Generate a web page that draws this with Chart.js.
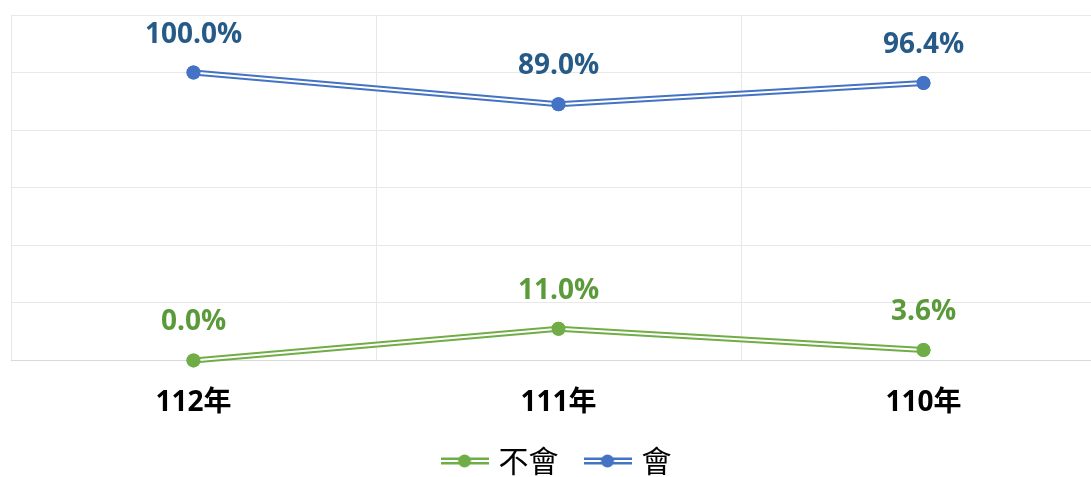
<!DOCTYPE html>
<html>
<head>
<meta charset="utf-8">
<script src="https://cdn.jsdelivr.net/npm/chart.js@4"></script>
<style>
  html, body { margin: 0; padding: 0; background: #fff; overflow: hidden; }
  #wrap { width: 1106px; height: 490px; }
</style>
</head>
<body>
<div id="wrap"><canvas id="grafik"></canvas></div>
<script>
const years = ['112年', '111年', '110年'];
const buHui = [0.0, 11.0, 3.6];      // 不會
const hui = [100.0, 89.0, 96.4];     // 會
const seriesNames = ['不會', '會'];
const lineColors = ['#70AD47', '#4472C4'];
const labelColors = ['#5B9A3A', '#265A87'];

// legend icon: double line with a dot
function makeIcon(color) {
  const c = document.createElement('canvas');
  c.width = 48; c.height = 20;
  const g = c.getContext('2d');
  g.fillStyle = color;
  g.fillRect(0, 6.5, 48, 2.5);
  g.fillRect(0, 11, 48, 2.5);
  g.beginPath();
  g.arc(24, 10, 6.5, 0, Math.PI * 2);
  g.fill();
  return c;
}

const doubleLine = {
  id: 'doubleLine',
  afterDatasetDraw(chart, args) {
    const pts = args.meta.data;
    const ctx = chart.ctx;
    ctx.save();
    ctx.strokeStyle = '#fff';
    ctx.lineWidth = 2;
    ctx.beginPath();
    pts.forEach((p, i) => i ? ctx.lineTo(p.x, p.y) : ctx.moveTo(p.x, p.y));
    ctx.stroke();
    ctx.restore();
    pts.forEach(p => p.draw(ctx));
  }
};

const valueLabels = {
  id: 'valueLabels',
  afterDatasetsDraw(chart) {
    const ctx = chart.ctx;
    ctx.save();
    ctx.font = 'bold 28px "Open Sans", "Noto Sans", sans-serif';
    ctx.textAlign = 'center';
    ctx.textBaseline = 'middle';
    chart.data.datasets.forEach((ds, i) => {
      chart.getDatasetMeta(i).data.forEach((p, j) => {
        ctx.fillStyle = labelColors[i];
        ctx.fillText(ds.data[j].toFixed(1) + '%', p.x, p.y - 38);
      });
    });
    ctx.restore();
  }
};

const ctx = document.getElementById('grafik').getContext('2d');
new Chart(ctx, {
  type: 'line',
  data: {
    labels: years,
    datasets: [buHui, hui].map((vals, i) => ({
      label: seriesNames[i],
      data: vals,
      borderColor: lineColors[i],
      backgroundColor: lineColors[i],
      borderWidth: 6,
      pointStyle: 'circle',
      pointRadius: 7,
      pointBorderWidth: 0,
      tension: 0,
      clip: false
    }))
  },
  options: {
    responsive: true,
    maintainAspectRatio: false,
    animation: false,
    layout: { autoPadding: false, padding: { left: 11, top: 15, right: 0, bottom: 4 } },
    plugins: {
      tooltip: { enabled: false },
      legend: {
        position: 'bottom',
        labels: {
          usePointStyle: true,
          pointStyleWidth: 38,
          padding: 0,
          color: '#000',
          font: { size: 30, family: '"Noto Sans CJK TC", sans-serif' },
          generateLabels(chart) {
            return chart.data.datasets.map((ds, i) => ({
              text: i === 0 ? ds.label + '\u2003' : ds.label,
              pointStyle: makeIcon(lineColors[i]),
              fillStyle: lineColors[i],
              strokeStyle: lineColors[i],
              lineWidth: 0,
              datasetIndex: i,
              hidden: false
            }));
          }
        }
      }
    },
    scales: {
      x: {
        offset: true,
        grid: { offset: true, color: '#E8E8E8', lineWidth: 1, drawTicks: false },
        border: { color: '#D9D9D9' },
        ticks: {
          color: '#000',
          padding: 26,
          font: { size: 28, weight: 'bold', family: '"Open Sans", "Noto Sans CJK TC", sans-serif' }
        }
      },
      y: {
        min: 0,
        max: 120,
        ticks: { display: false, stepSize: 20 },
        grid: { color: '#E8E8E8', drawTicks: false },
        border: { display: false },
        afterFit(axis) { axis.width = 0; }
      }
    }
  },
  plugins: [doubleLine, valueLabels]
});
</script>
</body>
</html>
